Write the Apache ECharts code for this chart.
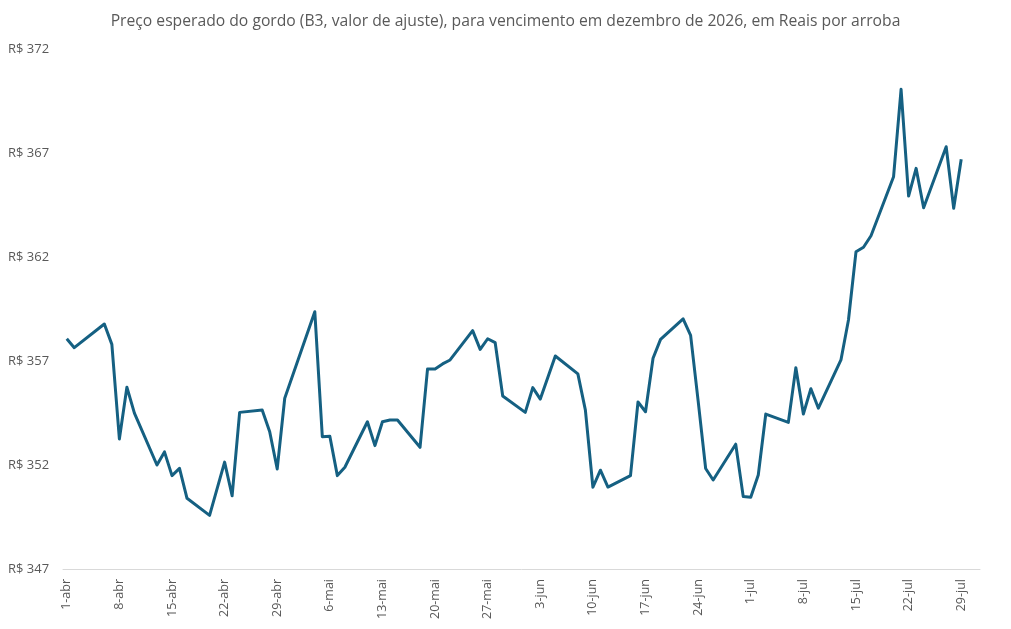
<!DOCTYPE html>
<html>
<head>
<meta charset="utf-8">
<script src="https://cdn.jsdelivr.net/npm/echarts@6/dist/echarts.min.js"></script>
<style>
html,body{margin:0;padding:0;background:#fff;}
#chart{width:1011px;height:629px;}
</style>
</head>
<body>
<div id="chart"></div>
<script>
// Months shown on the axis (calendar days, Excel-style date axis)
const months = [['abr', 30], ['mai', 31], ['jun', 30], ['jul', 31]];

// Trading days and settlement prices (R$/@)
const tradeDates = [
  '1-abr','2-abr','6-abr','7-abr','8-abr','9-abr','10-abr','13-abr','14-abr','15-abr','16-abr','17-abr',
  '20-abr','22-abr','23-abr','24-abr','27-abr','28-abr','29-abr','30-abr',
  '4-mai','5-mai','6-mai','7-mai','8-mai','11-mai','12-mai','13-mai','14-mai','15-mai',
  '18-mai','19-mai','20-mai','21-mai','22-mai','25-mai','26-mai','27-mai','28-mai','29-mai',
  '1-jun','2-jun','3-jun','5-jun','8-jun','9-jun','10-jun','11-jun','12-jun',
  '15-jun','16-jun','17-jun','18-jun','19-jun','22-jun','23-jun','24-jun','25-jun','26-jun',
  '29-jun','30-jun','1-jul','2-jul','3-jul','6-jul','7-jul','8-jul','9-jul','10-jul',
  '13-jul','14-jul','15-jul','16-jul','17-jul','20-jul','21-jul','22-jul','23-jul','24-jul',
  '27-jul','28-jul','29-jul'
];
const prices = [
  358.07, 357.64, 358.78, 357.80, 353.25, 355.74, 354.49, 352.00, 352.63, 351.49, 351.84, 350.40,
  349.58, 352.14, 350.52, 354.53, 354.64, 353.60, 351.81, 355.21,
  359.37, 353.36, 353.38, 351.49, 351.89, 354.08, 352.93, 354.08, 354.16, 354.16,
  352.85, 356.62, 356.62, 356.86, 357.05, 358.46, 357.56, 358.07, 357.88, 355.32,
  354.53, 355.72, 355.17, 357.24, 356.38, 354.64, 350.93, 351.75, 350.94,
  351.49, 355.03, 354.56, 357.13, 358.04, 359.03, 358.23, 355.08, 351.83, 351.28,
  353.00, 350.48, 350.45, 351.52, 354.45, 354.05, 356.68, 354.45, 355.67, 354.73,
  357.05, 358.97, 362.25, 362.47, 363.02, 365.86, 370.06, 364.93, 366.26, 364.37,
  367.30, 364.34, 366.70
];

// Y-axis ticks
const yMin = 347, yMax = 372, yStep = 5;

// Build calendar categories and align prices (null on non-trading days)
const categories = [];
months.forEach(([m, n]) => { for (let d = 1; d <= n; d++) categories.push(d + '-' + m); });
const priceMap = {};
tradeDates.forEach((d, i) => { priceMap[d] = prices[i]; });
const seriesData = categories.map(c => (c in priceMap ? priceMap[c] : null));

const FONT = 'Open Sans, Noto Sans, sans-serif';
const chart = echarts.init(document.getElementById('chart'), null, { renderer: 'canvas' });
chart.setOption({
  animation: false,
  backgroundColor: '#ffffff',
  title: {
    text: 'Preço esperado do gordo (B3, valor de ajuste), para vencimento em dezembro de 2026, em Reais por arroba',
    left: 'center',
    top: 9,
    textStyle: { color: '#595959', fontSize: 15.7, fontWeight: 'normal', fontFamily: FONT }
  },
  grid: { left: 63, right: 31, top: 49, bottom: 60, containLabel: false },
  xAxis: {
    type: 'category',
    data: categories,
    boundaryGap: true,
    axisLine: { lineStyle: { color: '#d9d9d9', width: 1 } },
    axisTick: { show: false },
    splitLine: { show: false },
    axisLabel: {
      interval: 6,
      rotate: 90,
      margin: 10,
      color: '#595959',
      fontSize: 12.5,
      fontFamily: FONT
    }
  },
  yAxis: {
    type: 'value',
    min: yMin,
    max: yMax,
    interval: yStep,
    axisLine: { show: false },
    axisTick: { show: false },
    splitLine: { show: false },
    axisLabel: {
      formatter: v => 'R$ ' + v,
      align: 'left',
      margin: 55,
      padding: [5, 0, 0, 0],
      color: '#595959',
      fontSize: 13,
      fontFamily: FONT
    }
  },
  series: [{
    type: 'line',
    data: seriesData,
    connectNulls: true,
    showSymbol: false,
    symbol: 'none',
    lineStyle: { color: '#156082', width: 3, join: 'round' },
    itemStyle: { color: '#156082' }
  }]
});
</script>
</body>
</html>
